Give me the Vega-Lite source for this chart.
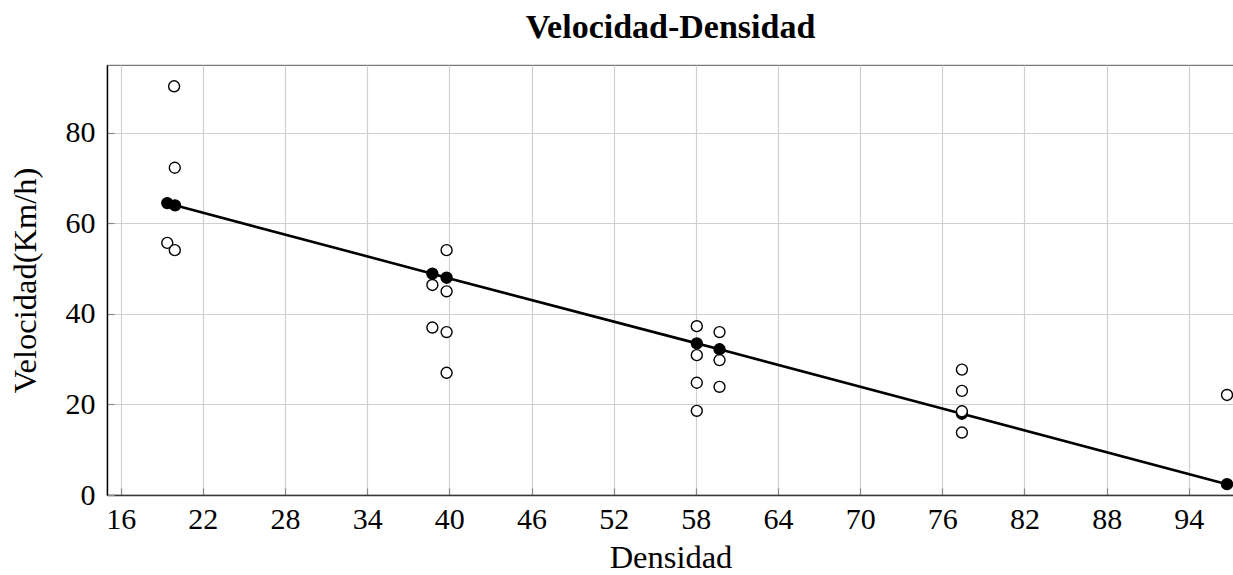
{
  "$schema": "https://vega.github.io/schema/vega-lite/v6.json",
  "width": 1127,
  "height": 430,
  "autosize": "none",
  "padding": {"left": 107, "top": 65, "right": 0, "bottom": 80},
  "title": {"text": "Velocidad-Densidad", "font": "Liberation Serif", "fontSize": 34, "fontWeight": "bold", "color": "#000000", "anchor": "middle", "offset": 20},
  "config": {
    "view": {"stroke": "#7a7a7a", "strokeWidth": 1.2},
    "axis": {
      "labelFont": "Liberation Serif", "labelFontSize": 30, "labelColor": "#000000",
      "titleFont": "Liberation Serif", "titleFontSize": 32.5, "titleFontWeight": "normal", "titleColor": "#000000",
      "gridColor": "#cfcfcf", "gridWidth": 1.2, "gridOpacity": 1,
      "tickColor": "#8a8a8a", "tickWidth": 1.2, "tickSize": -7
    }
  },
  "data": {"values": [
    {"x": 19.9, "y": 90.3, "kind": "obs"},
    {"x": 19.95, "y": 72.3, "kind": "obs"},
    {"x": 19.4, "y": 55.7, "kind": "obs"},
    {"x": 19.95, "y": 54.1, "kind": "obs"},
    {"x": 39.8, "y": 54.1, "kind": "obs"},
    {"x": 38.76, "y": 46.4, "kind": "obs"},
    {"x": 39.8, "y": 45.0, "kind": "obs"},
    {"x": 38.76, "y": 37.0, "kind": "obs"},
    {"x": 39.8, "y": 36.0, "kind": "obs"},
    {"x": 39.8, "y": 27.0, "kind": "obs"},
    {"x": 58.07, "y": 37.3, "kind": "obs"},
    {"x": 59.73, "y": 36.0, "kind": "obs"},
    {"x": 58.07, "y": 30.9, "kind": "obs"},
    {"x": 59.73, "y": 29.8, "kind": "obs"},
    {"x": 58.07, "y": 24.8, "kind": "obs"},
    {"x": 59.73, "y": 23.9, "kind": "obs"},
    {"x": 58.07, "y": 18.6, "kind": "obs"},
    {"x": 77.43, "y": 27.7, "kind": "obs"},
    {"x": 77.43, "y": 23.0, "kind": "obs"},
    {"x": 77.43, "y": 13.8, "kind": "obs"},
    {"x": 96.79, "y": 22.1, "kind": "obs"},
    {"x": 19.4, "y": 64.5, "kind": "fit"},
    {"x": 19.97, "y": 64.0, "kind": "fit"},
    {"x": 38.76, "y": 48.9, "kind": "fit"},
    {"x": 39.8, "y": 48.0, "kind": "fit"},
    {"x": 58.07, "y": 33.5, "kind": "fit"},
    {"x": 59.73, "y": 32.2, "kind": "fit"},
    {"x": 77.43, "y": 17.95, "kind": "fit"},
    {"x": 96.79, "y": 2.4, "kind": "fit"},
    {"x": 77.43, "y": 18.5, "kind": "obs2"}
  ]},
  "encoding": {
    "x": {"field": "x", "type": "quantitative", "title": "Densidad",
      "scale": {"domain": [15, 97.3], "nice": false, "zero": false},
      "axis": {"values": [16, 22, 28, 34, 40, 46, 52, 58, 64, 70, 76, 82, 88, 94], "domainColor": "#3a3a3a", "domainWidth": 1.4, "labelPadding": 16, "titlePadding": 7}},
    "y": {"field": "y", "type": "quantitative", "title": "Velocidad(Km/h)",
      "scale": {"domain": [0, 95], "nice": false},
      "axis": {"values": [0, 20, 40, 60, 80], "domainColor": "#000000", "domainWidth": 1.4, "labelPadding": 19, "titlePadding": 23}}
  },
  "layer": [
    {"transform": [{"filter": "datum.kind == 'obs'"}],
     "mark": {"type": "point", "shape": "circle", "filled": true, "fill": "#ffffff", "stroke": "#000000", "strokeWidth": 1.4, "size": 120, "opacity": 1}},
    {"transform": [{"filter": "datum.kind == 'fit'"}],
     "mark": {"type": "line", "color": "#000000", "strokeWidth": 2.6},
     "encoding": {"order": {"field": "x", "type": "quantitative"}}},
    {"transform": [{"filter": "datum.kind == 'fit'"}],
     "mark": {"type": "point", "shape": "circle", "filled": true, "fill": "#000000", "stroke": "#000000", "strokeWidth": 1.4, "size": 120, "opacity": 1}},
    {"transform": [{"filter": "datum.kind == 'obs2'"}],
     "mark": {"type": "point", "shape": "circle", "filled": true, "fill": "#ffffff", "stroke": "#000000", "strokeWidth": 1.4, "size": 120, "opacity": 1}}
  ]
}
